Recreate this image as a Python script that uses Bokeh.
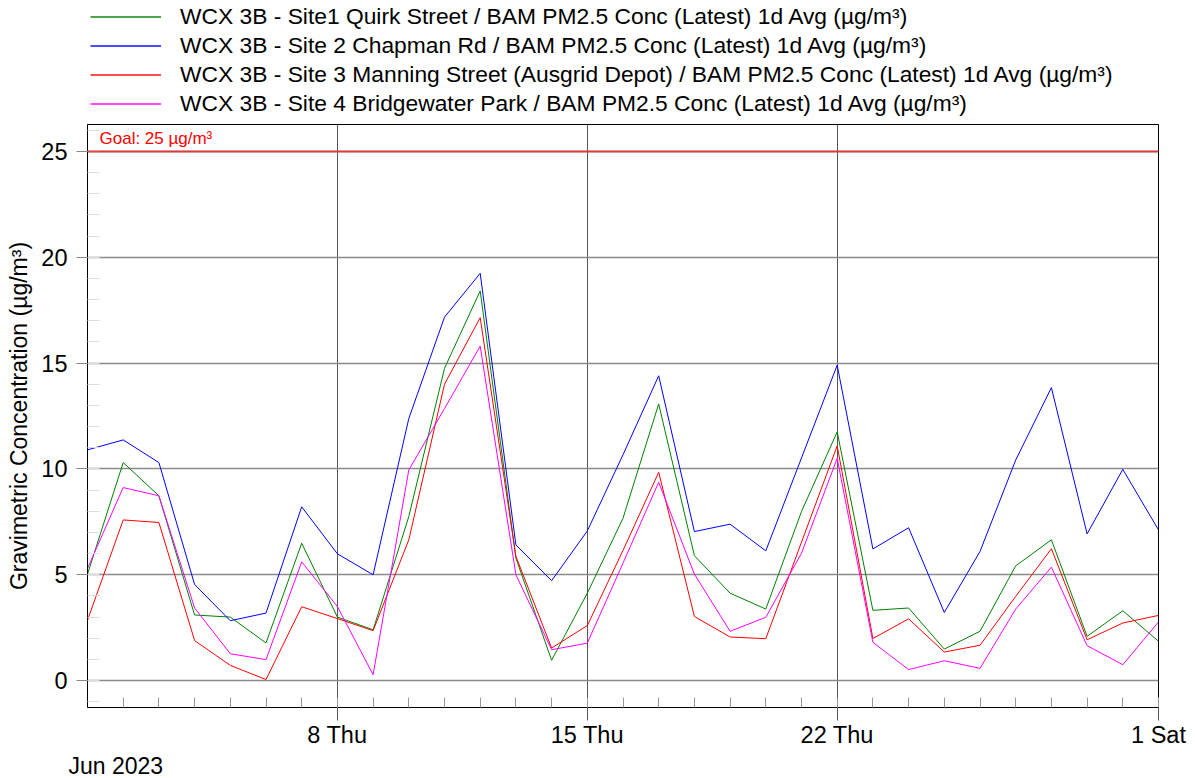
from datetime import datetime, timedelta
from bokeh.plotting import figure
from bokeh.layouts import column
from bokeh.models import (Range1d, FixedTicker, DatetimeTickFormatter, Legend, LegendItem,
                          Span, Label, Title)
from bokeh.embed import file_html
from bokeh.resources import INLINE

# ---- data ----
start = datetime(2023, 6, 1)
dates = [start + timedelta(days=i) for i in range(31)]  # Jun 1 .. Jul 1 2023

site1 = [5.03, 10.3, 8.73, 3.1, 3.0, 1.78, 6.49, 3.0, 2.4, 7.75, 14.75, 18.41, 5.79, 0.96, 4.13,
         7.67, 13.07, 5.9, 4.13, 3.38, 7.99, 11.75, 3.32, 3.43, 1.49, 2.33, 5.42, 6.65, 2.09, 3.3, 1.86]
site2 = [10.9, 11.37, 10.3, 4.54, 2.83, 3.19, 8.21, 5.99, 5.0, 12.38, 17.17, 19.24, 6.41, 4.72, 7.07,
         10.67, 14.4, 7.04, 7.39, 6.13, 10.52, 14.9, 6.22, 7.22, 3.22, 6.1, 10.42, 13.84, 6.93, 9.98, 7.12]
site3 = [2.85, 7.59, 7.47, 1.89, 0.72, 0.05, 3.49, 2.93, 2.36, 6.65, 14.0, 17.15, 5.87, 1.54, 2.6,
         6.15, 9.84, 3.03, 2.06, 1.98, 6.54, 11.09, 1.99, 2.92, 1.35, 1.67, 3.98, 6.23, 1.93, 2.72, 3.08]
site4 = [5.3, 9.12, 8.73, 3.43, 1.27, 0.99, 5.61, 3.5, 0.28, 9.95, 12.85, 15.8, 5.0, 1.46, 1.77,
         5.55, 9.37, 5.03, 2.33, 2.99, 6.02, 10.5, 1.81, 0.52, 0.94, 0.58, 3.38, 5.36, 1.65, 0.75, 2.77]

series_names = [
    "WCX 3B - Site1 Quirk Street / BAM PM2.5 Conc (Latest) 1d Avg (µg/m³)",
    "WCX 3B - Site 2 Chapman Rd / BAM PM2.5 Conc (Latest) 1d Avg (µg/m³)",
    "WCX 3B - Site 3 Manning Street (Ausgrid Depot) / BAM PM2.5 Conc (Latest) 1d Avg (µg/m³)",
    "WCX 3B - Site 4 Bridgewater Park / BAM PM2.5 Conc (Latest) 1d Avg (µg/m³)",
]
series_colors = ["#008000", "#0000ff", "#ff0000", "#ff00ff"]

major_tick_dates = [datetime(2023, 6, 8), datetime(2023, 6, 15), datetime(2023, 6, 22), datetime(2023, 7, 1)]
y_major_ticks = [0, 5, 10, 15, 20, 25]
y_minor_ticks = list(range(-1, 27))
goal_value = 25
goal_text = "Goal: 25 µg/m³"
y_label = "Gravimetric Concentration (µg/m³)"
month_label = "Jun 2023"

FONT = "Liberation Sans"
W = 1195
LEGEND_H = 123
MAIN_H = 778 - LEGEND_H


def ms(d):
    return (d - datetime(1970, 1, 1)).total_seconds() * 1000.0


xs = [ms(d) for d in dates]
all_series = [site1, site2, site3, site4]

# ---------------- legend strip (above the chart) ----------------
# Its own ranges keep the key renderers' data out of view; only the legend shows.
lf = figure(title=None, width=W, height=LEGEND_H, output_backend="svg", toolbar_location=None,
            x_range=Range1d(0, 1), y_range=Range1d(0, 1), min_border=0)
lf.axis.visible = False
lf.grid.visible = False
lf.outline_line_color = None
lf.background_fill_color = "white"
lf.border_fill_color = "white"
key_renderers = [lf.line(x=xs, y=vals, line_color=c, line_width=2, line_alpha=0.7)
                 for vals, c in zip(all_series, series_colors)]
legend = Legend(items=[LegendItem(label=n, renderers=[r]) for n, r in zip(series_names, key_renderers)],
                location=(3, 6), orientation="vertical",
                glyph_width=71, glyph_height=27, label_height=27, label_standoff=19, spacing=2,
                padding=0, margin=0, border_line_color=None, background_fill_alpha=0,
                label_text_font=FONT, label_text_font_size="22.8px", label_text_color="black")
lf.add_layout(legend)

# ---------------- main chart ----------------
p = figure(title=None, x_axis_type="datetime", output_backend="svg", toolbar_location=None,
           width=W, height=MAIN_H,
           x_range=Range1d(xs[0], xs[-1]),
           y_range=Range1d(-1.27, 26.27),
           min_border_left=87, min_border_right=37, min_border_top=1, min_border_bottom=70)
p.background_fill_color = "white"
p.border_fill_color = "white"
p.outline_line_color = "black"
p.outline_line_width = 1

for vals, col in zip(all_series, series_colors):
    p.line(x=xs, y=vals, line_color=col, line_width=1)

# goal line
p.add_layout(Span(location=goal_value, dimension="width", line_color="#e03030", line_width=2, line_alpha=0.85))
p.add_layout(Label(x=xs[0], y=goal_value, x_offset=12, y_offset=3, text=goal_text,
                   text_color="red", text_font=FONT, text_font_size="17px", text_baseline="bottom"))

# x axis
xa = p.xaxis[0]
xa.ticker = FixedTicker(ticks=[ms(d) for d in major_tick_dates], minor_ticks=xs)
fmt = "%-d %a"
xa.formatter = DatetimeTickFormatter(days=fmt, months=fmt, years=fmt, hours=fmt, hourmin=fmt)
xa.major_tick_out = 13
xa.major_tick_in = 0
xa.major_tick_line_color = "#555555"
xa.minor_tick_in = 10
xa.minor_tick_out = 0
xa.minor_tick_line_color = "#999999"
xa.axis_line_color = "black"
xa.major_label_text_font = FONT
xa.major_label_text_font_size = "23.5px"
xa.major_label_text_color = "black"
xa.major_label_standoff = 1

# y axis
ya = p.yaxis[0]
ya.ticker = FixedTicker(ticks=y_major_ticks, minor_ticks=y_minor_ticks)
ya.major_tick_out = 11
ya.major_tick_in = 0
ya.major_tick_line_color = "#888888"
ya.minor_tick_in = 12
ya.minor_tick_out = 0
ya.minor_tick_line_color = "#dddddd"
ya.axis_line_color = "black"
ya.major_label_text_font = FONT
ya.major_label_text_font_size = "23.5px"
ya.major_label_text_color = "black"
ya.major_label_standoff = 9
ya.axis_label = y_label
ya.axis_label_text_font = FONT
ya.axis_label_text_font_size = "23px"
ya.axis_label_text_font_style = "normal"
ya.axis_label_text_color = "black"
ya.axis_label_standoff = 6

# grids
p.xgrid[0].ticker = FixedTicker(ticks=[ms(d) for d in major_tick_dates])
p.xgrid[0].grid_line_color = "#555555"
p.xgrid[0].grid_line_width = 1
p.ygrid[0].ticker = FixedTicker(ticks=y_major_ticks)
p.ygrid[0].grid_line_color = "#8a8a8a"
p.ygrid[0].grid_line_width = 1.5

# month label below the axis
p.add_layout(Title(text=month_label, align="left", offset=-19, standoff=0,
                   text_font=FONT, text_font_size="23px", text_font_style="normal",
                   text_color="black"), "below")

layout = column(lf, p, spacing=0)
open("out.html", "w").write(file_html(layout, INLINE))
